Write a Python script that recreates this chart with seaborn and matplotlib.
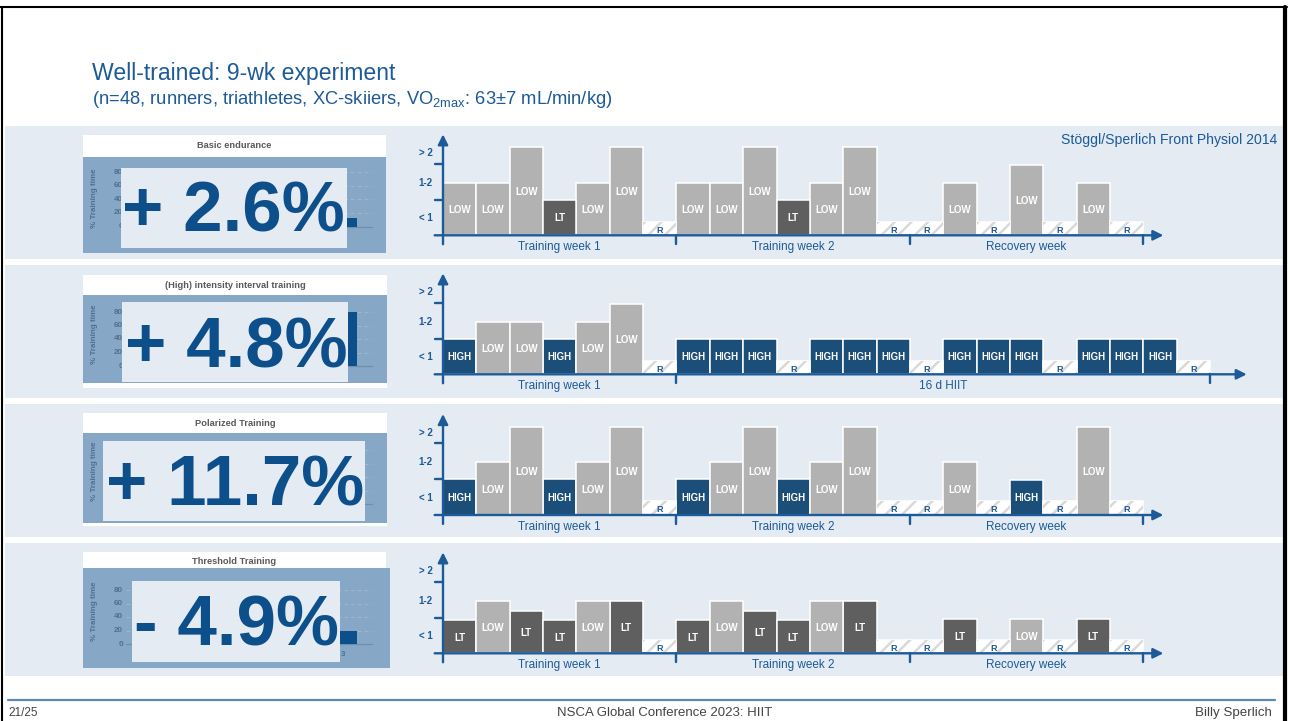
import numpy as np
import pandas as pd
import matplotlib
matplotlib.use("Agg")
import matplotlib.pyplot as plt
from matplotlib.patches import Rectangle
import seaborn as sns

# ---------------- data ----------------
protocol_names = ["Basic endurance", "(High) intensity interval training",
                  "Polarized Training", "Threshold Training"]
vo2_change = ["+ 2.6%", "+ 4.8%", "+ 11.7%", "- 4.9%"]
duration_labels = ["< 1", "1-2", "> 2"]          # session duration (h)
duration_label_pos = [0.47, 1.47, 2.3]

# one entry per day: session type and session duration (1 = 1 h, 2 = 2 h)
basic_kinds = ["LOW", "LOW", "LOW", "LT", "LOW", "LOW", "R"] * 2 + \
              ["R", "LOW", "R", "LOW", "R", "LOW", "R"]
basic_hours = [1.47, 1.47, 2.47, 1.0, 1.47, 2.47, 0.38] * 2 + \
              [0.38, 1.47, 0.38, 1.97, 0.38, 1.47, 0.38]

hiit_kinds = ["HIGH", "LOW", "LOW", "HIGH", "LOW", "LOW", "R"] + \
             ["HIGH", "HIGH", "HIGH", "R"] * 4
hiit_hours = [1.0, 1.47, 1.47, 1.0, 1.47, 1.96, 0.38] + [1.0, 1.0, 1.0, 0.38] * 4

polar_kinds = ["HIGH", "LOW", "LOW", "HIGH", "LOW", "LOW", "R"] * 2 + \
              ["R", "LOW", "R", "HIGH", "R", "LOW", "R"]
polar_hours = [1.0, 1.47, 2.47, 1.0, 1.47, 2.47, 0.38] * 2 + \
              [0.38, 1.47, 0.38, 0.99, 0.38, 2.47, 0.38]

thresh_kinds = ["LT", "LOW", "LT", "LT", "LOW", "LT", "R"] * 2 + \
               ["R", "LT", "R", "LOW", "R", "LT", "R"]
thresh_hours = [0.94, 1.47, 1.19, 0.94, 1.47, 1.47, 0.38] * 2 + \
               [0.38, 0.97, 0.38, 0.97, 0.38, 0.97, 0.38]

three_week_names = ["Training week 1", "Training week 2", "Recovery week"]
three_week_bounds = [0, 7, 14, 21]
hiit_block_names = ["Training week 1", "16 d HIIT"]
hiit_block_bounds = [0, 7, 23]

# % training time shown in the small inset charts
inset_share = [13, 80, 0, 19]
inset_ticks = ["0", "20", "40", "60", "80"]

# ---------------- style ----------------
sns.set_style("white")
plt.rcParams["font.family"] = ["Liberation Sans", "DejaVu Sans"]
plt.rcParams["mathtext.fontset"] = "custom"
plt.rcParams["mathtext.rm"] = "Liberation Sans"
plt.rcParams["mathtext.it"] = "Liberation Sans:italic"
plt.rcParams["mathtext.bf"] = "Liberation Sans:bold"
plt.rcParams["hatch.linewidth"] = 1.8

W, H = 1290, 721
DARK_BLUE = "#0c4f8a"
AX_BLUE = "#1c5a98"
BAND = "#e4ebf3"
INSET_BLUE = "#86a7c5"
INSET_TEXT = "#4f7093"
palette = {"LOW": "#b2b2b2", "LT": "#5f5f5f", "HIGH": DARK_BLUE, "R": "#ffffff"}
label_color = {"LOW": "white", "LT": "white", "HIGH": "white", "R": AX_BLUE}

fig = plt.figure(figsize=(W / 100, H / 100), dpi=100)
fig.patch.set_facecolor("white")

# full-figure canvas in pixel units for slide elements
bg = fig.add_axes([0, 0, 1, 1], zorder=0)
bg.set_xlim(0, W)
bg.set_ylim(H, 0)
bg.axis("off")

# slide frame
bg.plot([0, 1287], [7, 7], color="black", lw=1.5, clip_on=False)
bg.plot([1285, 1285], [7, H], color="black", lw=3, clip_on=False)
bg.plot([2, 2], [7, H], color="black", lw=1.5, clip_on=False)

# title
bg.text(92, 80, "Well-trained: 9-wk experiment", fontsize=16.6, color=AX_BLUE,
        va="baseline", ha="left")
bg.text(92, 104, r"(n=48, runners, triathletes, XC-skiiers, VO$_{\mathrm{2max}}$: 63±7 mL/min/kg)",
        fontsize=13.2, color=AX_BLUE, va="baseline", ha="left")

# row bands
band_tops = [126, 265, 404, 543]
for t in band_tops:
    bg.add_patch(Rectangle((5, t), 1278, 133, facecolor=BAND, edgecolor="none", zorder=0))

bg.text(1277, 140, "Stöggl/Sperlich Front Physiol 2014", fontsize=10.1, color=AX_BLUE,
        ha="right", va="center", zorder=2)

# left-hand result panels
panels = [
    dict(white=(83, 135, 386, 157), blue=(83, 157, 386, 253), box=(121, 168, 347, 248),
         tx=233.5, tb=232, base=226.5, top=172, lab=(95, 198), ty=146, bar=(330, 357), ticks=True),
    dict(white=(83, 275, 387, 388), blue=(83, 295, 387, 383), box=(122, 302, 348, 382),
         tx=236, tb=367, base=366, top=312, lab=(94, 334), ty=286, bar=(330, 357), ticks=True),
    dict(white=(83, 413, 387, 526), blue=(83, 433, 387, 523), box=(103, 441, 365, 521),
         tx=235, tb=505, base=504, top=450, lab=(95, 471), ty=423, bar=(330, 357), ticks=False),
    dict(white=(83, 552, 386, 568), blue=(83, 568, 390, 668), box=(132, 581, 340, 662),
         tx=236.5, tb=645, base=644, top=590, lab=(94, 611), ty=561, bar=(325, 357), ticks=True),
]

for i, p in enumerate(panels):
    x0, y0, x1, y1 = p["white"]
    bg.add_patch(Rectangle((x0, y0), x1 - x0, y1 - y0, facecolor="white", edgecolor="none", zorder=1))
    bg.text((x0 + x1) / 2, p["ty"], protocol_names[i], fontsize=6.7, fontweight="bold",
            color="#595959", ha="center", va="center", zorder=2)
    x0, y0, x1, y1 = p["blue"]
    bg.add_patch(Rectangle((x0, y0), x1 - x0, y1 - y0, facecolor=INSET_BLUE, edgecolor="none", zorder=1.5))
    # faint inset chart
    step = (p["base"] - p["top"]) / 4
    for k, lab in enumerate(inset_ticks):
        yy = p["base"] - k * step
        if p["ticks"]:
            bg.text(123, yy, lab, fontsize=5.8, fontweight="bold", color=INSET_TEXT,
                    ha="right", va="center", zorder=2)
        if k == 0:
            bg.plot([126, 372], [yy, yy], color="#6f8fb0", lw=0.9, zorder=2)
        else:
            bg.plot([126, 372], [yy, yy], color="#a0b7ce", lw=0.7, ls=(0, (4, 3)), zorder=2)
    bg.text(p["lab"][0], p["lab"][1], "% Training time", rotation=90, fontsize=5.8,
            fontweight="bold", color=INSET_TEXT, ha="center", va="center", zorder=2)
    if inset_share[i] > 0:
        hb = inset_share[i] / 80 * (p["base"] - p["top"])
        bg.add_patch(Rectangle((p["bar"][0], p["base"] - hb), p["bar"][1] - p["bar"][0], hb,
                               facecolor=DARK_BLUE, edgecolor="none", zorder=2.2))
    if i == 3:
        bg.text(343, 655, "3", fontsize=5.8, fontweight="bold", color=INSET_TEXT,
                ha="center", va="center", zorder=2)
    x0, y0, x1, y1 = p["box"]
    bg.add_patch(Rectangle((x0, y0), x1 - x0, y1 - y0, facecolor=BAND, edgecolor="none", zorder=3))
    bg.text(p["tx"], p["tb"], vo2_change[i], fontsize=51, fontweight="bold", color=DARK_BLUE,
            ha="center", va="baseline", zorder=4)

# footer
bg.plot([8, 1275], [700, 700], color="#5b8bb7", lw=1.6)
bg.text(8, 716, "21/25", fontsize=8.5, color="#444444", ha="left", va="baseline")
bg.text(665, 716, "NSCA Global Conference 2023: HIIT", fontsize=9.5, color="#444444",
        ha="center", va="baseline")
bg.text(1272, 716, "Billy Sperlich", fontsize=9.6, color="#444444", ha="right", va="baseline")

# ---------------- training schedule charts ----------------
DX = 33.35          # px per day
DY = 35.8           # px per hour level
X0 = 443            # px of time origin
rows = [
    (basic_kinds, basic_hours, three_week_bounds, three_week_names, 235.3, 21.6),
    (hiit_kinds, hiit_hours, hiit_block_bounds, hiit_block_names, 374.3, 24.1),
    (polar_kinds, polar_hours, three_week_bounds, three_week_names, 515.0, 21.6),
    (thresh_kinds, thresh_hours, three_week_bounds, three_week_names, 653.3, 21.6),
]

for kinds, hours, bounds, names, base_px, arrow_end in rows:
    ax = fig.add_axes([X0 / W, (H - base_px) / H, 25 * DX / W, 3 * DY / H], zorder=2)
    df = pd.DataFrame({"day": np.arange(len(kinds)) + 0.5, "hours": hours, "kind": kinds})
    sns.barplot(data=df, x="day", y="hours", hue="kind", palette=palette, native_scale=True,
                dodge=False, width=1, errorbar=None, edgecolor="white", linewidth=1.1,
                legend=False, ax=ax, zorder=2)
    rest = df[df["kind"] == "R"]
    ax.bar(rest["day"], rest["hours"], width=1, facecolor="none", edgecolor="#d9d9d9",
           hatch="//", linewidth=0, zorder=2.5)
    for d, h, k in zip(df["day"], df["hours"], df["kind"]):
        if k == "R":
            ax.text(d, h * 0.38, k, ha="center", va="center", fontsize=6.5,
                    fontweight="bold", color=label_color[k], zorder=4)
        else:
            ax.text(d, h / 2 - 0.03, k, ha="center", va="center", fontsize=7,
                    fontweight="bold", color=label_color[k], zorder=4)
    ax.set_xlim(0, 25)
    ax.set_ylim(0, 3)
    ax.axis("off")

    arrow = dict(arrowstyle="-|>,head_length=0.6,head_width=0.3", color=AX_BLUE, lw=1.7,
                 mutation_scale=10, shrinkA=0, shrinkB=0)
    ax.annotate("", xy=(0, 2.82), xytext=(0, -0.25), arrowprops=arrow, annotation_clip=False, zorder=5)
    ax.annotate("", xy=(arrow_end, 0), xytext=(-0.25, 0), arrowprops=arrow, annotation_clip=False, zorder=5)
    for lv in (1, 2):
        ax.plot([-0.25, 0], [lv, lv], color=AX_BLUE, lw=1.7, clip_on=False, zorder=5)
    for b in bounds[1:]:
        ax.plot([b, b], [0, -0.25], color=AX_BLUE, lw=1.7, clip_on=False, zorder=5)
    for lab, yy in zip(duration_labels, duration_label_pos):
        ax.text(-0.3, yy, lab, ha="right", va="center", fontsize=7, fontweight="bold", color=AX_BLUE)
    for a, b, name in zip(bounds[:-1], bounds[1:], names):
        ax.text((a + b) / 2, -0.33, name, ha="center", va="center", fontsize=8.5, color=AX_BLUE)

fig.savefig("out.png", dpi=100)
